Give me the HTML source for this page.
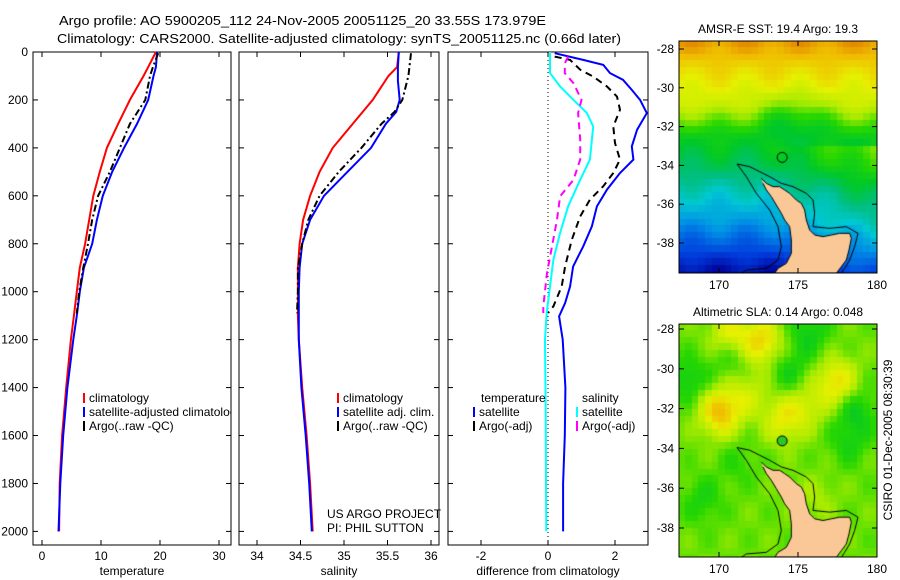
<!DOCTYPE html>
<html><head><meta charset="utf-8"><style>
body{margin:0;background:#fff;width:900px;height:580px;overflow:hidden;font-family:"Liberation Sans",sans-serif}
svg{position:absolute;left:0;top:0}
canvas{position:absolute}
</style></head><body>
<canvas id="m1" width="198" height="232" style="left:679px;top:41px"></canvas>
<canvas id="m2" width="198" height="233" style="left:679px;top:324px"></canvas>
<svg id="s" width="900" height="580" font-family="Liberation Sans, sans-serif" font-size="12"><defs><clipPath id="c1"><rect x="33" y="52" width="198" height="493"/></clipPath></defs></svg>
<script>
// ---- data ----
const depthTClim=[0,63,100,200,300,400,500,600,700,800,900,1000,1100,1200,1400,1600,1800,2000];
const tempClim=[19.3,18.0,17.2,14.9,12.9,11.0,9.8,8.7,8.0,7.3,6.4,5.9,5.4,4.9,4.1,3.4,3.0,2.9];
const depthTSat=[0,63,100,200,300,400,500,600,700,800,900,1000,1100,1200,1400,1600,1800,2000];
const tempSat=[19.5,19.3,18.9,18.0,16.1,13.9,11.9,10.3,9.3,8.5,7.1,6.4,5.9,5.3,4.3,3.6,3.1,2.8];
const depthArgo=[5,63,100,200,300,400,500,600,700,800,900,1000,1090];
const tempArgo=[19.7,18.8,18.3,17.5,14.9,13.2,11.5,9.5,8.5,7.8,7.0,6.3,5.9];
const salClim=[35.63,35.61,35.51,35.33,35.10,34.87,34.72,34.61,34.53,34.49,34.47,34.47,34.47,34.48,34.52,34.57,34.61,34.64];
const depthSSat=[0,63,120,200,250,300,400,500,600,700,800,900,1000,1100,1200,1400,1600,1800,2000];
const salSat=[35.63,35.62,35.62,35.64,35.60,35.48,35.31,35.04,34.77,34.61,34.52,34.49,34.48,34.48,34.48,34.51,34.56,34.60,34.63];
const depthSArgo=[5,100,200,250,300,400,500,600,700,800,900,1000,1090];
const salArgo=[35.77,35.74,35.67,35.58,35.43,35.20,34.94,34.72,34.59,34.52,34.47,34.47,34.46];
const depthDT=[5,33,54,88,116,158,200,255,324,394,449,505,574,644,727,811,895,978,1047,1103,1200,1400,1600,1800,2000];
const diffTSat=[0.2,1.05,1.65,1.85,2.24,2.5,2.75,2.95,2.66,2.5,2.55,2.15,1.76,1.46,1.31,1.05,0.75,0.66,0.51,0.33,0.44,0.52,0.5,0.45,0.45];
const depthDTA=[19,33,74,102,144,186,241,311,380,449,505,560,616,686,783,895,978,1061,1089];
const diffTArgo=[0.2,0.66,0.96,1.34,1.76,2.06,2.15,1.95,2.0,2.15,1.95,1.65,1.25,0.96,0.71,0.51,0.41,0.16,0.0];
const depthDS=[0,88,144,200,255,311,449,533,644,755,866,978,1089,1200,1500,1800,2000];
const diffSSat=[0.06,0.06,0.36,0.76,1.16,1.35,1.25,0.96,0.6,0.36,0.16,0.06,-0.04,-0.09,-0.07,-0.06,-0.05];
const depthDSA=[19,47,88,130,200,255,366,449,533,602,700,811,922,1061,1089];
const diffSArgo=[0.6,0.5,0.5,0.76,1.0,0.9,0.96,0.96,0.76,0.36,0.27,0.12,-0.03,-0.14,-0.14];
const depthTicks=[0,200,400,600,800,1000,1200,1400,1600,1800,2000];
const tTicks=[0,10,20,30], sTicks=[34,34.5,35,35.5,36], dTicks=[-2,0,2];

const S=document.getElementById('s');const NS='http://www.w3.org/2000/svg';
function el(t,a,txt){const e=document.createElementNS(NS,t);for(const k in a)e.setAttribute(k,a[k]);if(txt!==undefined)e.textContent=txt;S.appendChild(e);return e;}
const Y0=52,Y1=545;const yd=d=>Y0+d*0.2397;
const panels=[
 {name:'temperature-panel',x0:33,x1:231,fx:v=>42+v*5.9,ticks:tTicks,label:'temperature'},
 {name:'salinity-panel',x0:239,x1:439,fx:v=>257+(v-34)*87,ticks:sTicks,label:'salinity'},
 {name:'difference-panel',x0:448,x1:648,fx:v=>548+v*33.5,ticks:dTicks,label:'difference from climatology'}];
panels.forEach((p,i)=>{
 const r=el('rect',{x:p.x0,y:Y0,width:p.x1-p.x0,height:Y1-Y0,fill:'none',stroke:'#000','stroke-width':1});
 
 
 p.ticks.forEach(t=>{const x=p.fx(t);
  el('line',{x1:x,x2:x,y1:Y1,y2:Y1-5,stroke:'#000'});el('line',{x1:x,x2:x,y1:Y0,y2:Y0+5,stroke:'#000'});
  const tl=el('text',{x:x,y:Y1+15,'text-anchor':'middle'},String(t));
  
  });
 depthTicks.forEach(d=>{const y=yd(d);
  el('line',{x1:p.x0,x2:p.x0+5,y1:y,y2:y,stroke:'#000'});el('line',{x1:p.x1,x2:p.x1-5,y1:y,y2:y,stroke:'#000'});
  if(i===0){const tl=el('text',{x:28,y:y+4,'text-anchor':'end'},String(d));
   
   }});
 const xl=el('text',{x:(p.x0+p.x1)/2,y:575,'text-anchor':'middle'},p.label);
 
 
});
function series(p,ds,vs,color,dash,name,w){
 const pts=ds.map((d,k)=>p.fx(vs[k]).toFixed(1)+','+yd(d).toFixed(1)).join(' ');
 const a={points:pts,fill:'none',stroke:color,'stroke-width':w||2};if(dash)a['stroke-dasharray']=dash;
 const e=el('polyline',a);
 
 }
const [P1,P2,P3]=panels;
series(P1,depthTClim,tempClim,'#f00',null,'temp-climatology-line');
series(P1,depthTSat,tempSat,'#00f',null,'temp-satellite-line');
series(P1,depthArgo,tempArgo,'#000','7,3,2,3','temp-argo-line');
series(P2,depthTClim,salClim,'#f00',null,'sal-climatology-line');
series(P2,depthSSat,salSat,'#00f',null,'sal-satellite-line');
series(P2,depthSArgo,salArgo,'#000','7,3,2,3','sal-argo-line');
el('line',{x1:P3.fx(0),x2:P3.fx(0),y1:Y0,y2:Y1,stroke:'#000','stroke-dasharray':'1,3'});
series(P3,depthDT,diffTSat,'#00f',null,'diff-temp-satellite-line');
series(P3,depthDTA,diffTArgo,'#000','7,5','diff-temp-argo-line');
series(P3,depthDS,diffSSat,'#0ff',null,'diff-sal-satellite-line');
series(P3,depthDSA,diffSArgo,'#f0f','7,5','diff-sal-argo-line');
function leg(x,y,c,t,name,clip){const m=el('rect',{x:x,y:y-9,width:2,height:10,fill:c});
 const a={x:x+6,y:y};if(clip)a['clip-path']='url(#c1)';
 const tx=el('text',a,t);
 
 }
leg(83,402,'#f00','climatology','legend-climatology');
leg(83,416,'#00f','satellite-adjusted climatology','legend-satellite-adjusted',true);
leg(83,430,'#000','Argo(..raw -QC)','legend-argo');
leg(337,402,'#f00','climatology','legend-sal-climatology');
leg(337,416,'#00f','satellite adj. clim.','legend-sal-satellite');
leg(337,430,'#000','Argo(..raw -QC)','legend-sal-argo');
el('text',{x:481,y:402},'temperature');el('text',{x:582,y:402},'salinity');
leg(473,416,'#00f','satellite','legend-diff-temp-satellite');
leg(473,430,'#000','Argo(-adj)','legend-diff-temp-argo');
leg(576,416,'#0ff','satellite','legend-diff-sal-satellite');
leg(576,430,'#f0f','Argo(-adj)','legend-diff-sal-argo');
el('text',{x:327,y:518},'US ARGO PROJECT');el('text',{x:327,y:532},'PI: PHIL SUTTON');
const t1=el('text',{x:59,y:25,textLength:487,lengthAdjust:'spacingAndGlyphs','font-size':13},'Argo profile: AO 5900205_112 24-Nov-2005 20051125_20 33.55S 173.979E');


const t2=el('text',{x:57,y:43,textLength:564,lengthAdjust:'spacingAndGlyphs','font-size':13},'Climatology: CARS2000. Satellite-adjusted climatology: synTS_20051125.nc (0.66d later)');


// maps frames
const maps=[{top:41,bot:273,l28:49,l38:243,title:'AMSR-E SST: 19.4  Argo: 19.3',ty:33,name:'sst'},
            {top:324,bot:557,l28:329,l38:528,title:'Altimetric SLA: 0.14  Argo: 0.048',ty:316,name:'sla'}];
maps.forEach(m=>{
 el('rect',{x:679,y:m.top,width:198,height:m.bot-m.top,fill:'none',stroke:'#000'});
 const tt=el('text',{x:778,y:m.ty,'text-anchor':'middle'},m.title);
 
 
 [-28,-30,-32,-34,-36,-38].forEach(lat=>{const y=m.l28+(-28-lat)*(m.l38-m.l28)/10;
  el('line',{x1:679,x2:684,y1:y,y2:y,stroke:'#000'});el('line',{x1:877,x2:872,y1:y,y2:y,stroke:'#000'});
  el('text',{x:674,y:y+4,'text-anchor':'end'},String(lat));});
 [170,175,180].forEach(lon=>{const x=719+(lon-170)*15.8;
  el('line',{x1:x,x2:x,y1:m.bot,y2:m.bot-5,stroke:'#000'});el('line',{x1:x,x2:x,y1:m.top,y2:m.top+5,stroke:'#000'});
  el('text',{x:x,y:m.bot+16,'text-anchor':'middle'},String(lon));});
});
const st=el('text',{x:892,y:440,transform:'rotate(-90 892 440)','text-anchor':'middle'},'CSIRO 01-Dec-2005 08:30:39');



// map rendering
const stops=[[0.1,0,0,150],[0.2,0,60,220],[0.3,0,140,230],[0.38,0,200,210],[0.45,0,190,130],[0.52,0,200,40],[0.58,40,215,0],[0.66,170,235,0],[0.74,230,240,0],[0.82,240,190,0],[0.92,220,110,0]];
function cmap(v){if(v<=stops[0][0])return stops[0].slice(1);for(let i=1;i<stops.length;i++){if(v<=stops[i][0]){const a=stops[i-1],b=stops[i],t=(v-a[0])/(b[0]-a[0]);return [0,1,2].map(k=>Math.round(a[k+1]+(b[k+1]-a[k+1])*t));}}return stops[stops.length-1].slice(1);}
function sst(u,v){const bv=[[0,0.87],[0.12,0.78],[0.28,0.7],[0.4,0.55],[0.55,0.48],[0.65,0.40],[0.78,0.32],[0.9,0.22],[1,0.12]];
 let b=0.12;for(let i=1;i<bv.length;i++)if(v<=bv[i][0]){const t=(v-bv[i-1][0])/(bv[i][0]-bv[i-1][0]);b=bv[i-1][1]+(bv[i][1]-bv[i-1][1])*t;break;}
 b-=0.09*Math.exp(-((u-0.58)**2/0.03+(v-0.32)**2/0.008));
 if(v>0.45)b+=0.18*Math.max(0,u-0.45);
 b+=0.025*Math.sin(u*23)*Math.cos(v*19);return b;}
const blobs=[[0.21,0.38,0.2],[0.42,0.08,0.16],[0.80,0.25,0.15],[0.53,0.41,0.12],[0.26,0.04,0.12],[0.05,0.24,-0.08],[0.66,0.04,-0.08],[0.9,0.37,-0.08],[0.56,0.21,-0.07],[0.27,0.15,-0.06],[0.12,0.76,-0.06],[0.86,0.51,-0.06],[0.3,0.6,-0.04],[0.7,0.75,0.04],[0.35,0.3,0.08],[0.65,0.35,0.08]];
function sla(u,v){let b=0.62;blobs.forEach(q=>{b+=q[2]*Math.exp(-((u-q[0])**2+(v-q[1])**2)/0.01);});b+=0.02*Math.sin(u*31)*Math.cos(v*27);return b;}
const land=[[335,475],[350,490],[370,500],[390,500],[405,510],[420,520],[440,540],[455,550],[465,570],[470,600],[480,630],[495,645],[520,650],[545,645],[570,640],[600,640],[605,655],[598,690],[590,720],[575,740],[560,760],[375,760],[385,745],[410,730],[425,700],[425,660],[420,620],[405,600],[395,580],[380,555],[365,530],[350,510],[340,490]];
const contW=[[262,432],[290,470],[320,520],[360,570],[385,620],[395,680],[385,720],[350,745],[290,750],[275,760]];
const contE=[[262,432],[300,440],[330,455],[360,470],[395,490],[430,500],[470,520],[490,540],[495,580],[490,620],[540,625],[590,620],[625,640],[615,680],[600,720],[585,745],[575,760]];
function drawMap(id,fn,circ,H){const c=document.getElementById(id).getContext('2d');const W=198,cs=6.6;
 for(let x=0;x<W;x+=cs)for(let y=0;y<H;y+=cs){const col=cmap(fn((x+cs/2)/W,(y+cs/2)/H));c.fillStyle='rgb('+col+')';c.fillRect(Math.floor(x),Math.floor(y),Math.ceil(cs)+1,Math.ceil(cs)+1);}
 const P=p=>[(p[0]-88)/3,(p[1]-63)/3*H/232];
 c.fillStyle='rgb(250,200,150)';c.beginPath();land.forEach((p,i)=>{const q=P(p);i?c.lineTo(q[0],q[1]):c.moveTo(q[0],q[1]);});c.closePath();c.fill();
 c.strokeStyle='#000';c.lineWidth=1;[contW,contE].forEach(L=>{c.beginPath();L.forEach((p,i)=>{const q=P(p);i?c.lineTo(q[0],q[1]):c.moveTo(q[0],q[1]);});c.stroke();});
 c.beginPath();land.forEach((p,i)=>{const q=P(p);i?c.lineTo(q[0],q[1]):c.moveTo(q[0],q[1]);});c.stroke();
 const cx=(174-167.47)*15.8,cy=(33.6-27.6)*19.4*H/232;c.beginPath();c.arc(cx,cy,5,0,7);if(circ){c.fillStyle=circ;c.fill();}c.strokeStyle='#000';c.stroke();}
drawMap('m1',sst,null,232);drawMap('m2',sla,'rgb(40,200,40)',233);
</script></body></html>
